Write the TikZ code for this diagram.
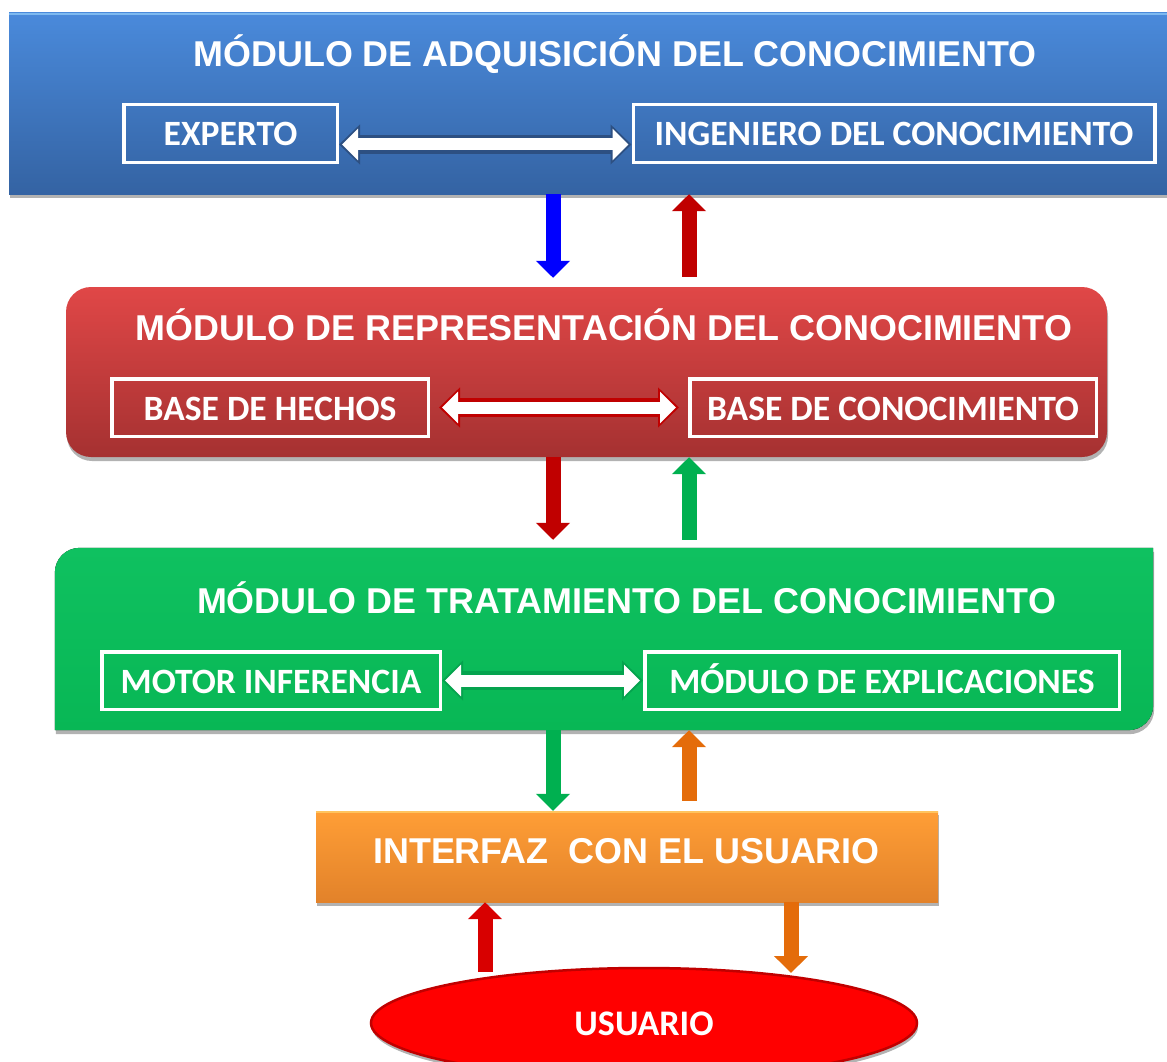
\documentclass[tikz,border=0pt]{standalone}
\usepackage{fontspec}
\newfontfamily\arialfont{Liberation Sans}
\newfontfamily\calfont{Carlito}
\usetikzlibrary{arrows.meta,shapes.geometric,shadows,calc}
\definecolor{bluetop}{HTML}{4A8ADB}
\definecolor{bluebot}{HTML}{3463A3}
\definecolor{bluehi}{HTML}{7DB9F0}
\definecolor{redtop}{HTML}{E04747}
\definecolor{redbot}{HTML}{A53131}
\definecolor{greentop}{HTML}{0FC160}
\definecolor{greenbot}{HTML}{08B755}
\definecolor{orangetop}{HTML}{FF9E36}
\definecolor{orangebot}{HTML}{E2822A}
\definecolor{orangehi}{HTML}{FFC45E}
\definecolor{arrblue}{HTML}{0000FF}
\definecolor{arrred}{HTML}{C00000}
\definecolor{arrgreen}{HTML}{00B050}
\definecolor{arrorange}{HTML}{E46C0A}
\definecolor{arrredb}{HTML}{D80000}
\definecolor{userred}{HTML}{FF0000}
\definecolor{userborder}{HTML}{C00000}
\definecolor{dblblue}{HTML}{2D5082}
\definecolor{dblgreen}{HTML}{05A34E}
\begin{document}
\begin{tikzpicture}[x=1pt,y=-1pt,
  titletext/.style={text=white, font=\arialfont\bfseries\fontsize{35.9pt}{40pt}\selectfont, anchor=base, inner sep=0pt},
  frame/.style={draw=white, line width=3.5pt, text=white, font=\calfont\bfseries\fontsize{35.6pt}{40pt}\selectfont, inner sep=0pt, text height=25pt, text depth=0pt, minimum height=57.5pt},
  varrow/.style={line width=15pt, -{Triangle[length=17pt,width=33pt]}},
  dblouter/.style={line width=19pt, {Triangle[length=21pt,width=39pt]}-{Triangle[length=21pt,width=39pt]}},
  dblinner/.style={white, line width=12pt, {Triangle[length=16pt,width=31pt]}-{Triangle[length=16pt,width=31pt]}},
  shade/.style={drop shadow={shadow xshift=1pt, shadow yshift=-4pt, opacity=0.3, fill=black}},
]
\useasboundingbox (0,0) rectangle (1167,1062);
\clip (0,0) rectangle (1167,1062);

% ---------- module boxes ----------
\node[shade, top color=bluetop, bottom color=bluebot, minimum width=1170pt, minimum height=181pt, inner sep=0pt] (blue) at (594,103.5) {};
\draw[bluehi, line width=2pt] ([yshift=-1pt]blue.north west) -- ([yshift=-1pt]blue.north east);

\node[shade, rounded corners=25pt, top color=redtop, bottom color=redbot, minimum width=1041pt, minimum height=170pt, inner sep=0pt] (red) at (586.5,372) {};

\node[minimum width=1098pt, minimum height=182pt, inner sep=0pt] (green) at (604,639) {};
\fill[shade, top color=greentop, bottom color=greenbot]
  ([yshift=-25pt]green.north west) .. controls ([yshift=-11pt]green.north west) and ([xshift=11pt]green.north west) .. ([xshift=25pt]green.north west)
  -- (green.north east)
  -- ([yshift=25pt]green.south east) .. controls ([yshift=11pt]green.south east) and ([xshift=-11pt]green.south east) .. ([xshift=-25pt]green.south east)
  -- (green.south west) -- cycle;

\node[shade, top color=orangetop, bottom color=orangebot, minimum width=622pt, minimum height=91pt, inner sep=0pt] (orange) at (627,856.5) {};
\draw[orangehi, line width=2pt] ([yshift=-1pt]orange.north west) -- ([yshift=-1pt]orange.north east);

\node[shade, ellipse, fill=userred, draw=userborder, line width=2.5pt, minimum width=546pt, minimum height=110pt, inner sep=0pt,
  text=white, font=\calfont\bfseries\fontsize{36pt}{40pt}\selectfont, text height=25pt, text depth=0pt] (user) at (644,1023) {USUARIO};

% ---------- titles ----------
\node[titletext] (t1) at (615,67) {MÓDULO DE ADQUISICIÓN DEL CONOCIMIENTO};
\node[titletext] (t2) at (604,340) {MÓDULO DE REPRESENTACIÓN DEL CONOCIMIENTO};
\node[titletext] (t3) at (626.5,613) {MÓDULO DE TRATAMIENTO DEL CONOCIMIENTO};
\node[titletext] (t4) at (626.5,863) {INTERFAZ\ \ CON EL USUARIO};

% ---------- inner frames ----------
\node[frame, minimum width=213.5pt] (exp) at (230.5,133.5) {EXPERTO};
\node[frame, minimum width=521.5pt] (ing) at (894,133.5) {INGENIERO DEL CONOCIMIENTO};
\node[frame, minimum width=316.5pt] (bh) at (270,407.5) {BASE DE HECHOS};
\node[frame, minimum width=406.5pt] (bc) at (893,407.5) {BASE DE CONOCIMIENTO};
\node[frame, minimum width=338.5pt] (mi) at (271,680.5) {MOTOR INFERENCIA};
\node[frame, minimum width=474.5pt] (me) at (882,680.5) {MÓDULO DE EXPLICACIONES};

% ---------- double arrows ----------
\draw[dblouter, dblblue] ([yshift=-11pt]exp.east) -- ([yshift=-11pt]ing.west);
\draw[dblinner, shorten <=3pt, shorten >=3pt] ([yshift=-11pt]exp.east) -- ([yshift=-11pt]ing.west);

\draw[dblouter, arrred, shorten <=9pt, shorten >=9pt] (bh.east) -- (bc.west);
\draw[dblinner, shorten <=12pt, shorten >=12pt] (bh.east) -- (bc.west);

\draw[dblouter, dblgreen] (mi.east) -- (me.west);
\draw[dblinner, shorten <=3pt, shorten >=3pt] (mi.east) -- (me.west);

% ---------- vertical arrows ----------
\coordinate (xa) at (553,0);
\coordinate (xb) at (689,0);
\coordinate (ue1) at (485,972);
\coordinate (ue2) at (791,973);

\draw[varrow, arrblue, shorten >=9pt] (blue.south -| xa) -- (red.north -| xa);
\draw[varrow, arrred, shorten <=10pt] (red.north -| xb) -- (blue.south -| xb);

\draw[varrow, arrred, shorten >=8pt] (red.south -| xa) -- (green.north -| xa);
\draw[varrow, arrgreen, shorten <=8pt] (green.north -| xb) -- (red.south -| xb);

\draw[varrow, arrgreen] (green.south -| xa) -- (orange.north -| xa);
\draw[varrow, arrorange, shorten <=10pt] (orange.north -| xb) -- (green.south -| xb);

\draw[varrow, arrredb] (ue1) -- (orange.south -| ue1);
\draw[varrow, arrorange] (orange.south -| ue2) -- (ue2);
\end{tikzpicture}
\end{document}
